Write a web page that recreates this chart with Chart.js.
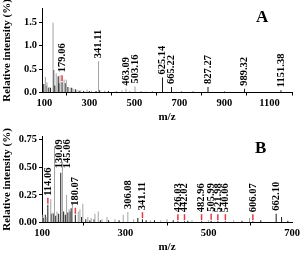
<!DOCTYPE html>
<html>
<head>
<meta charset="utf-8">
<script src="https://cdn.jsdelivr.net/npm/chart.js@4.4.1/dist/chart.umd.min.js"></script>
<style>
html, body { margin: 0; padding: 0; background: #fff; }
#wrap { position: relative; width: 305px; height: 255px; overflow: hidden; }
canvas { position: absolute; left: 0; }
#chartA { top: 0; }
#chartB { top: 128px; }
.tag { position: absolute; font: bold 17px "Liberation Serif", serif; color: #000; line-height: 18px; }
</style>
</head>
<body>
<div id="wrap">
  <canvas id="chartA" width="305" height="128"></canvas>
  <canvas id="chartB" width="305" height="127"></canvas>
  <div class="tag" style="left:256px;top:8px">A</div>
  <div class="tag" style="left:255px;top:139px">B</div>
</div>
<script>
// Spectrum A : [m/z, relative intensity %]
const grayPeaksA = [[105,0.33],[112,0.22],[122,0.12],[139,1.49],[153,0.41],[170,0.37],[188,0.28],[198,0.27],[215,0.1],[228,0.08],[245,0.06],[262,0.05],[290,0.06],[310,0.04],[341,0.67],[368,0.04],[445,0.05],[463,0.08],[503,0.13],[550,0.02]];
const blackPeaksA = [[98,0.18],[108,0.15],[118,0.1],[128,0.1],[142,0.48],[147,0.15],[162,0.35],[166,0.2],[179,0.22],[193,0.2],[205,0.12],[222,0.1],[238,0.07],[255,0.04],[275,0.03],[300,0.03],[330,0.03],[346,0.05],[385,0.03],[420,0.02],[480,0.02],[530,0.02],[580,0.02],[625,0.32],[665,0.12],[710,0.02],[760,0.02],[827,0.12],[900,0.02],[989,0.08],[1060,0.01],[1151,0.05]];
const peakLabelsA = [179.06, 341.11, 463.09, 503.16, 625.14, 665.22, 827.27, 989.32, 1151.38];
const redMarksA = [179.06];
const xTicksA = [100, 300, 500, 700, 900, 1100];
const yTicksA = [0, 0.5, 1.0, 1.5];

// Spectrum B
const grayPeaksB = [[102,0.07],[110,0.05],[121,0.21],[126,0.09],[130,0.69],[136,0.1],[149,0.55],[159,0.25],[165,0.12],[173,0.17],[187,0.1],[191,0.12],[198,0.17],[210,0.05],[218,0.04],[227,0.08],[235,0.1],[244,0.03],[256,0.05],[275,0.03],[295,0.07],[306,0.095],[320,0.03],[360,0.02],[385,0.02],[400,0.03],[460,0.02],[500,0.02],[560,0.02],[598,0.04]];
const blackPeaksB = [[104,0.04],[108,0.07],[114,0.16],[122,0.08],[128,0.08],[133,0.06],[140,0.08],[145,0.45],[152,0.1],[156,0.07],[162,0.09],[167,0.1],[170,0.13],[180,0.07],[195,0.05],[205,0.03],[215,0.02],[225,0.03],[240,0.02],[260,0.02],[285,0.02],[330,0.04],[341,0.03],[350,0.02],[370,0.02],[415,0.02],[426,0.012],[442,0.012],[450,0.015],[483,0.012],[506,0.015],[522,0.012],[540,0.012],[580,0.015],[606,0.012],[625,0.02],[662,0.08],[675,0.05],[690,0.015]];
const peakLabelsB = [114.06, 130.09, 145.06, 180.07, 306.08, 341.11, 426.03, 442.02, 482.96, 505.99, 521.98, 540.06, 606.07, 662.10];
const redMarksB = [114.06, 180.07, 341.11, 426.03, 442.02, 482.96, 505.99, 521.98, 540.06, 606.07];
const xTicksB = [100, 300, 500, 700];
const yTicksB = [0, 0.25, 0.5, 0.75];

const serif = '"Liberation Serif", "Times New Roman", serif';

// peak labels drawn vertically above the sticks, red marks on some peaks
const peakLabelPlugin = {
    id: 'peakLabels',
    afterDatasetsDraw(chart, args, opts) {
        const { ctx, chartArea } = chart;
        const x = chart.scales.x, y = chart.scales.y;
        const all = opts.peaks;
        let lastSide = -Infinity;
        ctx.save();
        ctx.font = 'bold 10.5px ' + serif;
        opts.labels.forEach(mz => {
            const px = x.getPixelForValue(mz);
            const own = all.filter(p => Math.abs(p[0] - mz) < 3).reduce((m, p) => Math.max(m, p[1]), 0);
            const near = all.filter(p => Math.abs(x.getPixelForValue(p[0]) - px) < 2.5)
                .reduce((m, p) => Math.max(m, p[1]), own);
            let bottom = y.getPixelForValue(near) - 3;
            if (opts.marks.includes(mz)) {
                const top = y.getPixelForValue(own) - 1;
                ctx.strokeStyle = '#e23b48';
                ctx.lineWidth = 1.5;
                ctx.beginPath();
                ctx.moveTo(px, top);
                ctx.lineTo(px, top - 6);
                ctx.stroke();
                bottom = Math.min(bottom, top - 8);
            }
            const text = mz.toFixed(2);
            const w = ctx.measureText(text).width;
            let lx = px;
            if (bottom - w < chartArea.top) {
                // no room above: put it beside the peak, at the top
                lx = Math.max(px + 4.5, lastSide + 8.5);
                lastSide = lx;
                bottom = chartArea.top + 3 + w;
            }
            ctx.save();
            ctx.translate(lx, bottom);
            ctx.rotate(-Math.PI / 2);
            ctx.textAlign = 'left';
            ctx.textBaseline = 'middle';
            ctx.fillStyle = '#000';
            ctx.fillText(text, 0, 0);
            ctx.restore();
        });
        ctx.restore();
    }
};

function makeSpectrum(canvasId, gray, black, labels, marks, xTicks, yTicks, cfg) {
    const toXY = arr => arr.map(p => ({ x: p[0], y: p[1] }));
    const stick = { barThickness: 1, borderWidth: 0, inflateAmount: 0, grouped: false };
    return new Chart(document.getElementById(canvasId), {
        type: 'bar',
        data: {
            datasets: [
                Object.assign({ data: toXY(gray), backgroundColor: '#a3a3a3' }, stick),
                Object.assign({ data: toXY(black), backgroundColor: '#1a1a1a' }, stick)
            ]
        },
        options: {
            responsive: false,
            animation: false,
            events: [],
            layout: { padding: { top: cfg.padTop, right: 13, left: 0, bottom: 0 } },
            scales: {
                x: {
                    type: 'linear',
                    min: cfg.xMin,
                    max: cfg.xMax,
                    offset: false,
                    afterBuildTicks: s => { s.ticks = xTicks.map(v => ({ value: v })); },
                    afterFit: s => { s.height = cfg.xHeight; },
                    grid: { drawOnChartArea: false, drawTicks: true, tickLength: 3, color: '#000' },
                    border: { display: true, color: '#000', width: 1 },
                    ticks: {
                        color: '#000', padding: 1, maxRotation: 0,
                        font: { family: serif, size: 10.5, weight: 'bold' },
                        callback: v => String(v)
                    },
                    title: {
                        display: true, text: 'm/z', color: '#000',
                        padding: { top: 0, bottom: cfg.titlePad },
                        font: { family: serif, size: 11, weight: 'bold' }
                    }
                },
                y: {
                    min: 0,
                    max: cfg.yMax,
                    afterBuildTicks: s => { s.ticks = yTicks.map(v => ({ value: v })); },
                    afterFit: s => { s.width = 42; },
                    grid: { drawOnChartArea: false, drawTicks: true, tickLength: 3, color: '#000' },
                    border: { display: true, color: '#000', width: 1 },
                    ticks: {
                        color: '#000', padding: 2,
                        font: { family: serif, size: 10.5, weight: 'bold' },
                        callback: v => v.toFixed(cfg.decimals)
                    },
                    title: {
                        display: true, text: 'Relative intensity (%)', color: '#000',
                        padding: { top: 1, bottom: 0 },
                        font: { family: serif, size: 11, weight: 'bold' }
                    }
                }
            },
            plugins: {
                legend: { display: false },
                tooltip: { enabled: false },
                peakLabels: { peaks: gray.concat(black), labels: labels, marks: marks }
            }
        },
        plugins: [peakLabelPlugin]
    });
}

makeSpectrum('chartA', grayPeaksA, blackPeaksA, peakLabelsA, redMarksA, xTicksA, yTicksA,
    { xMin: 90, xMax: 1200, yMax: 1.8, padTop: 4, xHeight: 35.5, titlePad: 4, decimals: 1 });
makeSpectrum('chartB', grayPeaksB, blackPeaksB, peakLabelsB, redMarksB, xTicksB, yTicksB,
    { xMin: 100, xMax: 700, yMax: 0.78, padTop: 7, xHeight: 32.5, titlePad: 1.5, decimals: 2 });
</script>
</body>
</html>
